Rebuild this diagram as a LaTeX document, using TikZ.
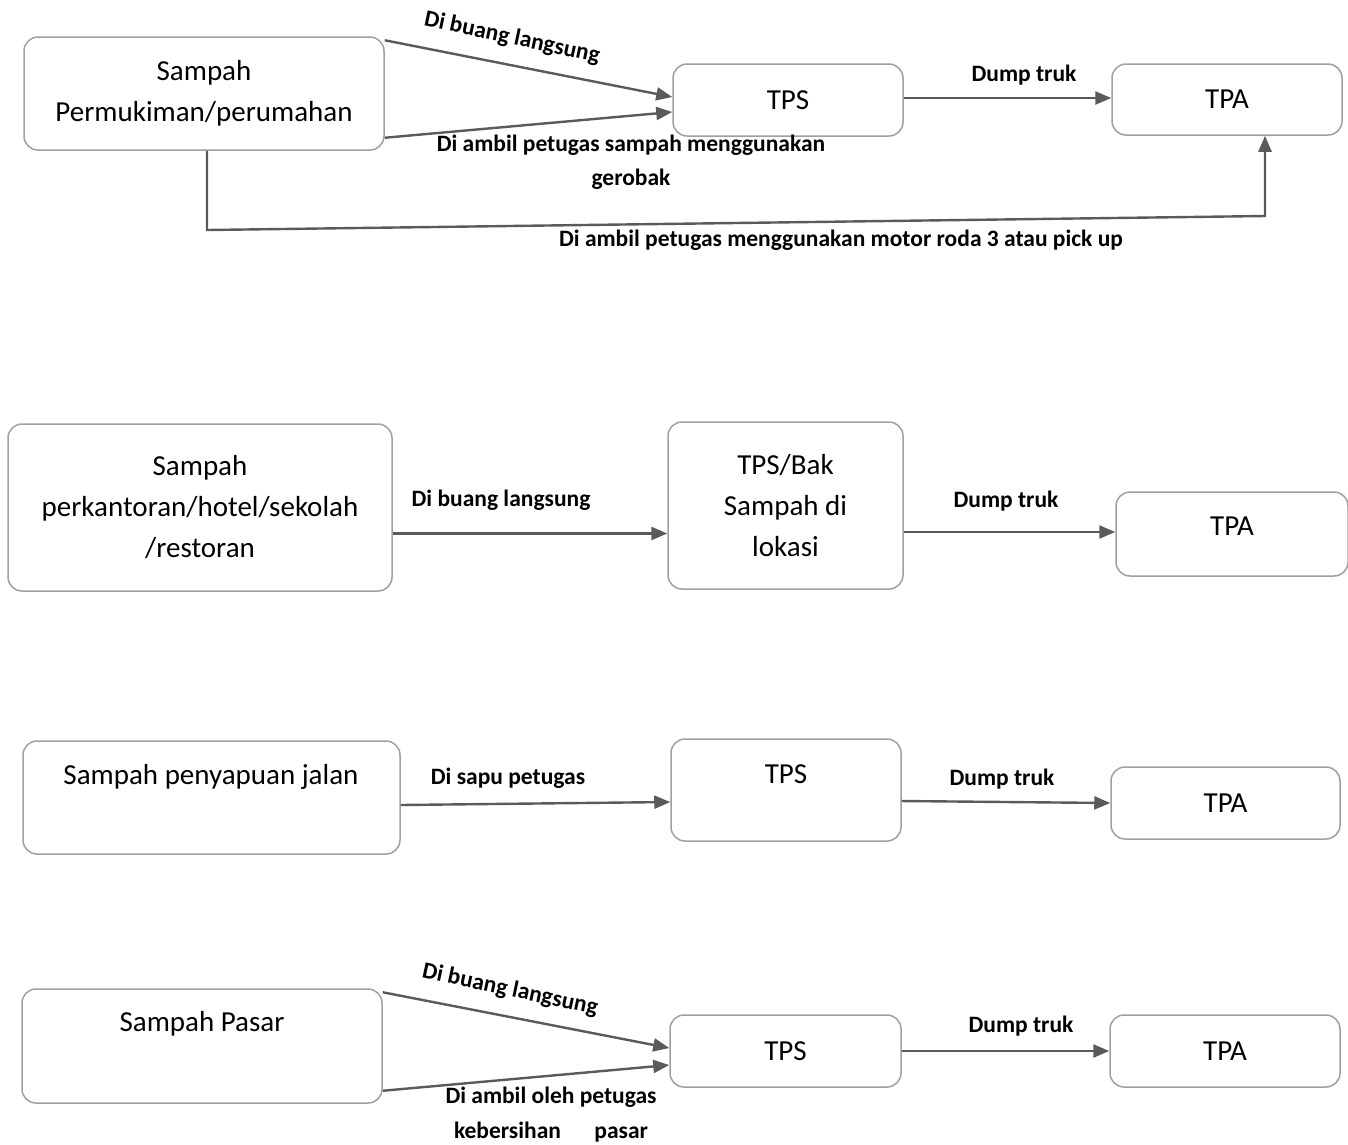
\documentclass[tikz,border=0pt]{standalone}
\usepackage{fontspec}
\setmainfont{Carlito}
\usetikzlibrary{arrows.meta,calc}
\definecolor{boxline}{HTML}{A0A0A0}
\definecolor{arrline}{HTML}{5A5A5A}
\tikzset{
  box/.style={draw=boxline,line width=1.5pt,rounded corners=14pt,fill=white,inner sep=0pt,align=center,font=\fontsize{29}{41}\selectfont},
  txt/.style={inner sep=0pt,align=center,font=\fontsize{29}{41}\selectfont},
  lbl/.style={inner sep=0pt,align=center,font=\bfseries\fontsize{23.5}{34.5}\selectfont},
  arr/.style={draw=arrline,line width=2.4pt,-{Triangle[length=16pt,width=13pt]}},
}
\begin{document}
\begin{tikzpicture}[x=1pt,y=-1pt]
\useasboundingbox[fill=white] (0,0) rectangle (1348,1144);
% Row 1
\node[box,minimum width=360pt,minimum height=113pt] (A1) at (204,93.5) {Sampah\\Permukiman/perumahan};
\node[box,minimum width=230pt,minimum height=72pt] (S1) at (788,100) {TPS};
\node[box,minimum width=230pt,minimum height=71pt] (P1) at (1227,99.5) {TPA};
\draw[arr] ([yshift=-4pt]A1.north east) -- ([yshift=3pt]S1.west);
\draw[arr] ([yshift=13pt]A1.south east) -- ([yshift=-12pt]S1.west);
\draw[arr] ([yshift=2pt]S1.east) -- ([yshift=1.5pt]P1.west);
\coordinate (c1) at (207,230);
\coordinate (c2) at (1265,216);
\draw[arr] ([xshift=3pt]A1.south) -- (c1) -- (c2) -- ([xshift=38pt]P1.south);
\node[lbl,rotate=-12] (l1a) at (512,38) {Di buang langsung};
\node[lbl] (l1b) at (631,162) {Di ambil petugas sampah menggunakan\\gerobak};
\node[lbl] (l1c) at (841,240) {Di ambil petugas menggunakan motor roda 3 atau pick up};
\node[lbl] (l1d) at (1024,75) {Dump truk};
% Row 2
\node[box,minimum width=384pt,minimum height=167pt] (A2) at (200,507.5) {Sampah\\perkantoran/hotel/sekolah\\/restoran};
\node[box,minimum width=235pt,minimum height=167pt] (S2) at (785.5,505.5) {TPS/Bak\\Sampah di\\lokasi};
\node[box,minimum width=232pt,minimum height=84pt] (P2) at (1232,534) {};
\node[txt] (P2t) at (1232,526) {TPA};
\draw[arr] ([yshift=-26pt]A2.east) -- ([yshift=-28pt]S2.west);
\draw[arr] ([yshift=-26.5pt]S2.east) -- ([yshift=2pt]P2.west);
\node[lbl] (l2a) at (501,500) {Di buang langsung};
\node[lbl] (l2b) at (1006,501) {Dump truk};
% Row 3
\node[box,minimum width=377pt,minimum height=113pt] (A3) at (211.5,797.5) {};
\node[txt] (A3t) at (211,777) {Sampah penyapuan jalan};
\node[box,minimum width=230pt,minimum height=102pt] (S3) at (786,790) {};
\node[txt] (S3t) at (786,774) {TPS};
\node[box,minimum width=229pt,minimum height=72pt] (P3) at (1225.5,803) {TPA};
\draw[arr] ([yshift=-7.5pt]A3.east) -- ([yshift=-12pt]S3.west);
\draw[arr] ([yshift=-11pt]S3.east) -- (P3.west);
\node[lbl] (l3a) at (508,778) {Di sapu petugas};
\node[lbl] (l3b) at (1002,779) {Dump truk};
% Row 4
\node[box,minimum width=360pt,minimum height=114pt] (A4) at (202,1046) {};
\node[txt] (A4t) at (202,1024) {Sampah Pasar};
\node[box,minimum width=231pt,minimum height=72pt] (S4) at (785.5,1051) {TPS};
\node[box,minimum width=230pt,minimum height=72pt] (P4) at (1225,1051) {TPA};
\draw[arr] ([yshift=-4pt]A4.north east) -- ([yshift=3pt]S4.west);
\draw[arr] ([yshift=13pt]A4.south east) -- ([yshift=-14pt]S4.west);
\draw[arr] (S4.east) -- (P4.west);
\node[lbl,rotate=-12] (l4a) at (510,990) {Di buang langsung};
\node[lbl] (l4b) at (551,1114.5) {Di ambil oleh petugas\\kebersihan\hspace{1.2em} pasar};
\node[lbl] (l4c) at (1021,1026) {Dump truk};
\end{tikzpicture}
\end{document}
